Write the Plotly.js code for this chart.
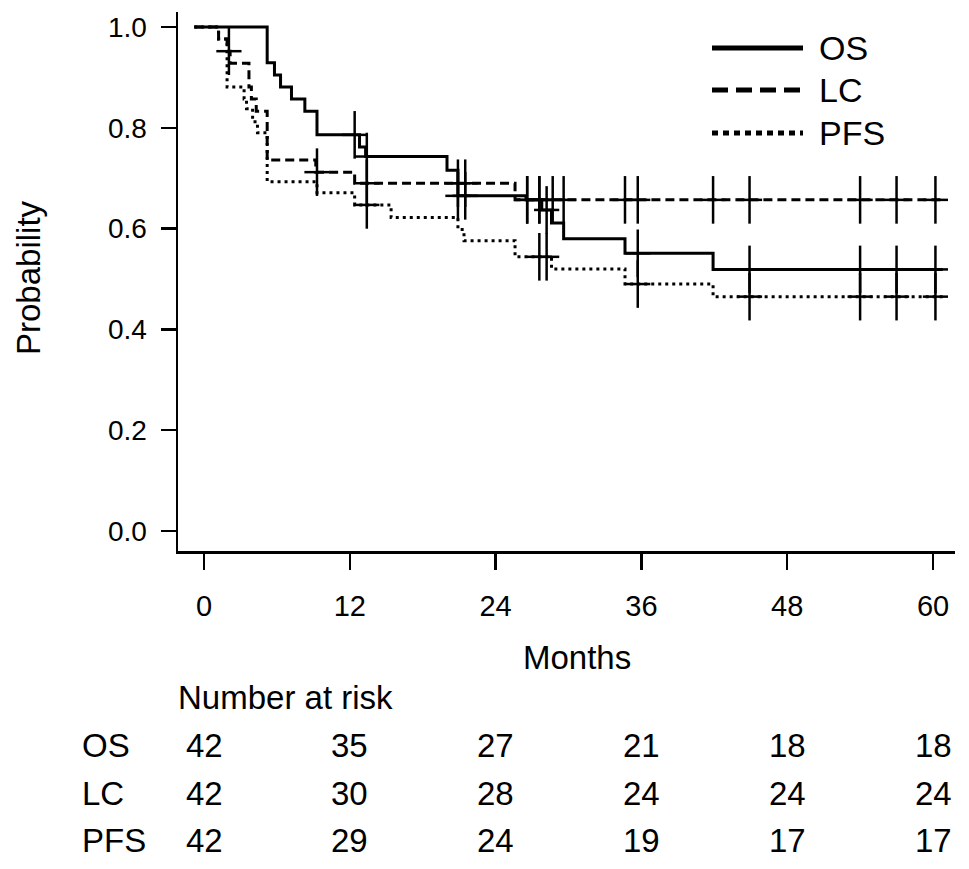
<!DOCTYPE html>
<html>
<head>
<meta charset="utf-8">
<script src="https://cdn.plot.ly/plotly-3.0.1.min.js"></script>
<style>html,body{margin:0;padding:0;background:#fff;}#chart{width:969px;height:869px;}</style>
</head>
<body>
<div id="chart"></div>
<script>
// ---- Data ----
var osTimes  = [-0.8, 5.2, 5.8, 6.3, 7.2, 8.3, 9.3, 12.8, 13.3, 20.0, 20.9, 26.5, 27.8, 28.6, 29.6, 34.65, 41.9, 60.8];
var osSurv   = [1.0, 0.929, 0.905, 0.881, 0.857, 0.833, 0.786, 0.762, 0.743, 0.716, 0.665, 0.657, 0.637, 0.611, 0.580, 0.551, 0.519, 0.519];
var lcTimes  = [-0.8, 1.2, 1.9, 2.15, 3.7, 3.9, 4.3, 5.2, 9.2, 12.4, 25.6, 60.8];
var lcSurv   = [1.0, 0.976, 0.952, 0.928, 0.881, 0.857, 0.833, 0.736, 0.712, 0.690, 0.657, 0.657];
var pfsTimes = [-0.8, 1.2, 1.9, 3.3, 3.5, 4.0, 4.4, 5.2, 9.3, 12.4, 15.4, 20.9, 21.4, 25.6, 28.6, 34.65, 41.9, 60.8];
var pfsSurv  = [1.0, 0.976, 0.881, 0.857, 0.838, 0.812, 0.790, 0.693, 0.671, 0.647, 0.622, 0.598, 0.576, 0.544, 0.520, 0.490, 0.465, 0.465];

var osCensor  = [12.4, 13.4, 20.9, 21.5, 26.6, 27.6, 28.2, 35.7, 44.9, 54.0, 57.0, 60.2];
var lcCensor  = [2.05, 9.3, 13.4, 20.9, 21.5, 26.6, 27.6, 28.7, 29.6, 34.65, 35.7, 41.9, 44.9, 54.0, 57.0, 60.2];
var pfsCensor = [13.4, 27.6, 28.2, 35.7, 44.9, 54.0, 57.0, 60.2];

var xTicks = [0, 12, 24, 36, 48, 60];
var yTicks = [0, 0.2, 0.4, 0.6, 0.8, 1.0];
var yTickLabels = ['0.0', '0.2', '0.4', '0.6', '0.8', '1.0'];

var seriesNames = ['OS', 'LC', 'PFS'];
var riskOS  = [42, 35, 27, 21, 18, 18];
var riskLC  = [42, 30, 28, 24, 24, 24];
var riskPFS = [42, 29, 24, 19, 17, 17];

// ---- helpers ----
function survAt(times, surv, t) {
  var v = surv[0];
  for (var i = 0; i < times.length; i++) { if (times[i] <= t) v = surv[i]; }
  return v;
}
function censorY(times, surv, cs) { return cs.map(function (t) { return survAt(times, surv, t); }); }

var FONT = 'Liberation Sans, Arial, Helvetica, sans-serif';
var BIG = 33;
var LW = 3;
var dashes = ['solid', '9px,5px', '3px,4px'];

var curves = [
  {t: osTimes, s: osSurv, c: osCensor},
  {t: lcTimes, s: lcSurv, c: lcCensor},
  {t: pfsTimes, s: pfsSurv, c: pfsCensor}
];

var traces = [];
curves.forEach(function (cv, i) {
  traces.push({
    x: cv.t, y: cv.s, type: 'scatter', mode: 'lines', name: seriesNames[i],
    line: {shape: 'hv', color: '#000', width: LW, dash: dashes[i]},
    showlegend: false, hoverinfo: 'skip', cliponaxis: false
  });
});
curves.forEach(function (cv, i) {
  var cy = censorY(cv.t, cv.s, cv.c);
  traces.push({
    x: cv.c, y: cy, type: 'scatter', mode: 'markers', showlegend: false, hoverinfo: 'skip',
    marker: {symbol: 'line-ns', size: 34, color: '#000', line: {color: '#000', width: 2.5}}
  });
  traces.push({
    x: cv.c, y: cy, type: 'scatter', mode: 'markers', showlegend: false, hoverinfo: 'skip',
    marker: {symbol: 'line-ew', size: 18, color: '#000', line: {color: '#000', width: 2.5}}
  });
});

// ---- layout geometry (paper coords) ----
var L = 178, R = 955, T = 12, B = 551, W = 969, H = 869;
function px(x) { return (x - L) / (R - L); }
function py(y) { return (B - y) / (B - T); }

var annotations = [];
var shapes = [];

// axis titles
annotations.push({text: 'Months', xref: 'paper', yref: 'paper', x: px(577), y: py(657),
  showarrow: false, font: {family: FONT, size: BIG, color: '#000'}, xanchor: 'center', yanchor: 'middle'});
annotations.push({text: 'Probability', xref: 'paper', yref: 'paper', x: px(28), y: py(278), textangle: -90,
  showarrow: false, font: {family: FONT, size: BIG, color: '#000'}, xanchor: 'center', yanchor: 'middle'});

// legend (drawn manually to match long line samples)
var legY = [48, 90, 133];
var legDash = ['solid', '16px,8px', '6px,5px'];
seriesNames.forEach(function (nm, i) {
  shapes.push({type: 'line', xref: 'paper', yref: 'paper', x0: px(712), x1: px(803), y0: py(legY[i]), y1: py(legY[i]),
    line: {color: '#000', width: 5, dash: legDash[i]}});
  annotations.push({text: nm, xref: 'paper', yref: 'paper', x: px(817), y: py(legY[i]), showarrow: false,
    xanchor: 'left', yanchor: 'middle', font: {family: FONT, size: 34, color: '#000'}});
});

// number at risk table
annotations.push({text: 'Number at risk', xref: 'paper', yref: 'paper', x: px(176), y: py(697), showarrow: false,
  xanchor: 'left', yanchor: 'middle', font: {family: FONT, size: BIG, color: '#000'}});
var rowY = [745, 793, 840];
var risks = [riskOS, riskLC, riskPFS];
seriesNames.forEach(function (nm, i) {
  annotations.push({text: nm, xref: 'paper', yref: 'paper', x: px(80), y: py(rowY[i]), showarrow: false,
    xanchor: 'left', yanchor: 'middle', font: {family: FONT, size: BIG, color: '#000'}});
  risks[i].forEach(function (v, j) {
    annotations.push({text: String(v), xref: 'x', yref: 'paper', x: xTicks[j], y: py(rowY[i]), showarrow: false,
      xanchor: 'center', yanchor: 'middle', font: {family: FONT, size: BIG, color: '#000'}});
  });
});

// axis ranges derived from pixel geometry: x 0 at 204px, 60 at 933px ; y 1.0 at 27px, 0.0 at 531px
var x0px = 204, x60px = 933, y1px = 27, y0px = 531;
var mpp = 60 / (x60px - x0px);
var ppp = 1 / (y0px - y1px);
var xr = [(L - x0px) * mpp, (R - x0px) * mpp];
var yr = [(y0px - B) * ppp, (y0px - T) * ppp];

var layout = {
  width: W, height: H,
  margin: {l: L, r: W - R, t: T, b: H - B, pad: 0},
  paper_bgcolor: '#fff', plot_bgcolor: '#fff',
  showlegend: false,
  font: {family: FONT, size: 27, color: '#000'},
  xaxis: {range: xr, tickvals: xTicks, ticktext: xTicks.map(String), showgrid: false, zeroline: false,
    showline: true, linecolor: '#000', linewidth: 2.5, ticks: 'outside', ticklen: 16, tickwidth: 2.5, tickcolor: '#000',
    ticklabelstandoff: 12,
    tickfont: {family: FONT, size: 29, color: '#000'}, fixedrange: true},
  yaxis: {range: yr, tickvals: yTicks, ticktext: yTickLabels, showgrid: false, zeroline: false,
    showline: true, linecolor: '#000', linewidth: 2.5, ticks: 'outside', ticklen: 15, tickwidth: 2.5, tickcolor: '#000',
    ticklabelstandoff: 8,
    tickfont: {family: FONT, size: 28, color: '#000'}, fixedrange: true},
  annotations: annotations,
  shapes: shapes
};

Plotly.newPlot('chart', traces, layout, {staticPlot: true, displayModeBar: false});
</script>
</body>
</html>
